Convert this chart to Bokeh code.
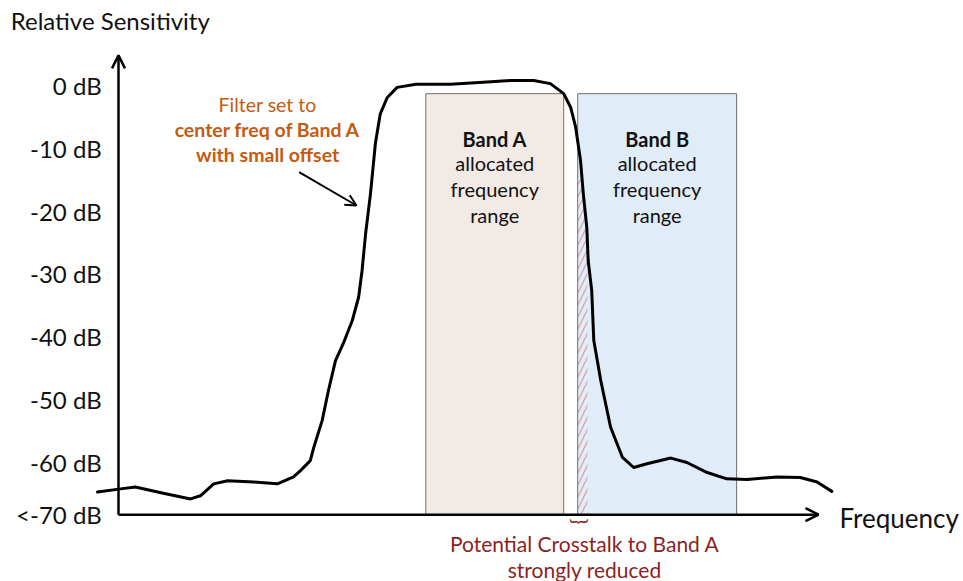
import numpy as np
from bokeh.plotting import figure
from bokeh.models import Range1d, Arrow, OpenHead, ColumnDataSource
from bokeh.core.properties import value
from bokeh.embed import file_html
from bokeh.resources import INLINE

# ---------------- data ----------------
freq = [-3.0, 0.3, 2.4, 6.4, 10.3, 11.7, 13.6, 15.6, 19.3, 22.7, 25.0, 26.0, 27.4, 27.9,
        29.1, 30.0, 31.0, 32.1, 33.4, 34.3, 34.8, 35.3, 36.0, 36.7, 37.4, 38.4, 39.8,
        42.5, 47.4, 52.1, 56.0, 59.3, 61.7, 63.6, 64.6, 65.3, 66.0, 66.4, 66.9, 67.1,
        67.6, 67.9, 68.9, 70.3, 72.0, 73.6, 75.5, 78.9, 81.2, 84.1, 86.9, 89.8, 94.1,
        97.4, 99.8, 101.9]
sens_db = [-64.7, -64.2, -63.9, -64.9, -65.8, -65.3, -63.4, -62.9, -63.1, -63.4, -62.3, -61.3,
           -59.7, -57.6, -53.3, -48.5, -43.8, -41.1, -37.4, -33.7, -29.4, -23.6, -17.2, -9.2,
           -4.5, -1.9, -0.3, 0.2, 0.2, 0.5, 0.8, 0.8, 0.3, -1.3, -3.5, -6.6, -11.9, -17.2,
           -22.6, -27.9, -32.6, -40.6, -47.0, -54.4, -59.2, -60.8, -60.2, -59.3, -60.0, -61.6,
           -62.6, -62.7, -62.3, -62.4, -63.1, -64.6]

AXIS_DB = -68.3          # level of the frequency axis ("<-70 dB")
AXIS_TOP_DB = 4.8
FREQ_END = 100.0

tick_db = [0, -10, -20, -30, -40, -50, -60, AXIS_DB]
tick_labels = ["0 dB", "-10 dB", "-20 dB", "-30 dB", "-40 dB", "-50 dB", "-60 dB", "<-70 dB"]

band_names = ["Band A", "Band B"]
band_start = [43.9, 65.6]
band_end = [63.6, 88.3]
band_top = -1.3
band_fill = ["#f2eae5", "#e0ecf7"]
band_lines = ["allocated", "frequency", "range"]

crosstalk_end = 67.0     # end of the hatched crosstalk strip inside Band B
crosstalk_top = -15.0

FONT = "Lato"
ORANGE = "#c55a11"
DARKRED = "#8c1f1f"

# ---------------- figure ----------------
p = figure(width=963, height=581, output_backend="svg", toolbar_location=None,
           x_range=Range1d(-16.857, 120.714), y_range=Range1d(-78.943, 13.528),
           min_border=0)
p.axis.visible = False
p.grid.visible = False
p.outline_line_color = None
p.background_fill_color = "white"

# bands
bsrc = ColumnDataSource(dict(left=band_start, right=band_end,
                             top=[band_top] * 2, bottom=[AXIS_DB] * 2,
                             fill=band_fill,
                             cx=[(a + b) / 2 for a, b in zip(band_start, band_end)],
                             name=band_names))
p.quad(left="left", right="right", top="top", bottom="bottom", fill_color="fill",
       line_color="#6f6f6f", line_width=1, source=bsrc)

# hatched crosstalk strip (under the curve, inside Band B)
hx = np.linspace(band_start[1], crosstalk_end, 25)
htop = np.minimum(np.interp(hx, freq, sens_db), crosstalk_top)
p.varea(x=hx, y1=np.full_like(hx, AXIS_DB), y2=htop, fill_alpha=0,
        hatch_pattern="/", hatch_color="#d46a6e", hatch_alpha=0.6,
        hatch_scale=12, hatch_weight=1.2)

# band texts
p.text(x="cx", y=-8.45, text="name", source=bsrc, text_font=value(FONT),
       text_font_style="bold", text_font_size="20px", text_align="center",
       text_baseline="middle", text_color="#111111")
line_y = [-12.4, -16.55, -20.55]
for cx in bsrc.data["cx"]:
    p.text(x=[cx] * 3, y=line_y, text=band_lines, text_font=value(FONT),
           text_font_size="20px", text_align="center", text_baseline="middle",
           text_color="#111111")

# curve
p.line(freq, sens_db, line_color="black", line_width=3, line_join="round", line_cap="round")

# axes (arrows)
p.add_layout(Arrow(x_start=0, y_start=AXIS_DB, x_end=0, y_end=AXIS_TOP_DB,
                   line_width=2.5, line_color="black",
                   end=OpenHead(size=13, line_width=2.5, line_color="black")))
p.add_layout(Arrow(x_start=0, y_start=AXIS_DB, x_end=FREQ_END, y_end=AXIS_DB,
                   line_width=2.5, line_color="black",
                   end=OpenHead(size=13, line_width=2.5, line_color="black")))

# tick labels
p.text(x=[-2.4] * len(tick_db), y=tick_db, text=tick_labels, text_font=value(FONT),
       text_font_size="24px", text_align="right", text_baseline="middle",
       text_color="#111111")

# axis titles
p.text(x=[-15.4], y=[10.35], text=["Relative Sensitivity"], text_font=value(FONT),
       text_font_size="24px", text_align="left", text_baseline="middle",
       text_color="#111111")
p.text(x=[103.0], y=[-68.9], text=["Frequency"], text_font=value(FONT),
       text_font_size="26px", text_align="left", text_baseline="middle",
       text_color="#111111")

# filter annotation
p.text(x=[21.3], y=[-3.0], text=["Filter set to"], text_font=value(FONT),
       text_font_size="19.5px", text_align="center", text_baseline="middle",
       text_color=ORANGE)
p.text(x=[21.3, 21.3], y=[-7.0, -11.0], text=["center freq of Band A", "with small offset"],
       text_font=value(FONT), text_font_style="bold", text_font_size="19.5px",
       text_align="center", text_baseline="middle", text_color=ORANGE)
p.add_layout(Arrow(x_start=25.8, y_start=-13.8, x_end=34.0, y_end=-19.1,
                   line_width=2, line_color="black",
                   end=OpenHead(size=11, line_width=2, line_color="black")))

# crosstalk annotation
p.text(x=[66.1], y=[-69.4], text=["}"], angle=-np.pi / 2, text_font=value(FONT),
       text_font_size="20px", text_align="center", text_baseline="middle",
       text_color=DARKRED)
p.text(x=[66.6, 66.6], y=[-72.9, -77.0],
       text=["Potential Crosstalk to Band A", "strongly reduced"],
       text_font=value(FONT), text_font_size="21px", text_align="center",
       text_baseline="middle", text_color=DARKRED)

open("out.html", "w").write(file_html(p, INLINE))
